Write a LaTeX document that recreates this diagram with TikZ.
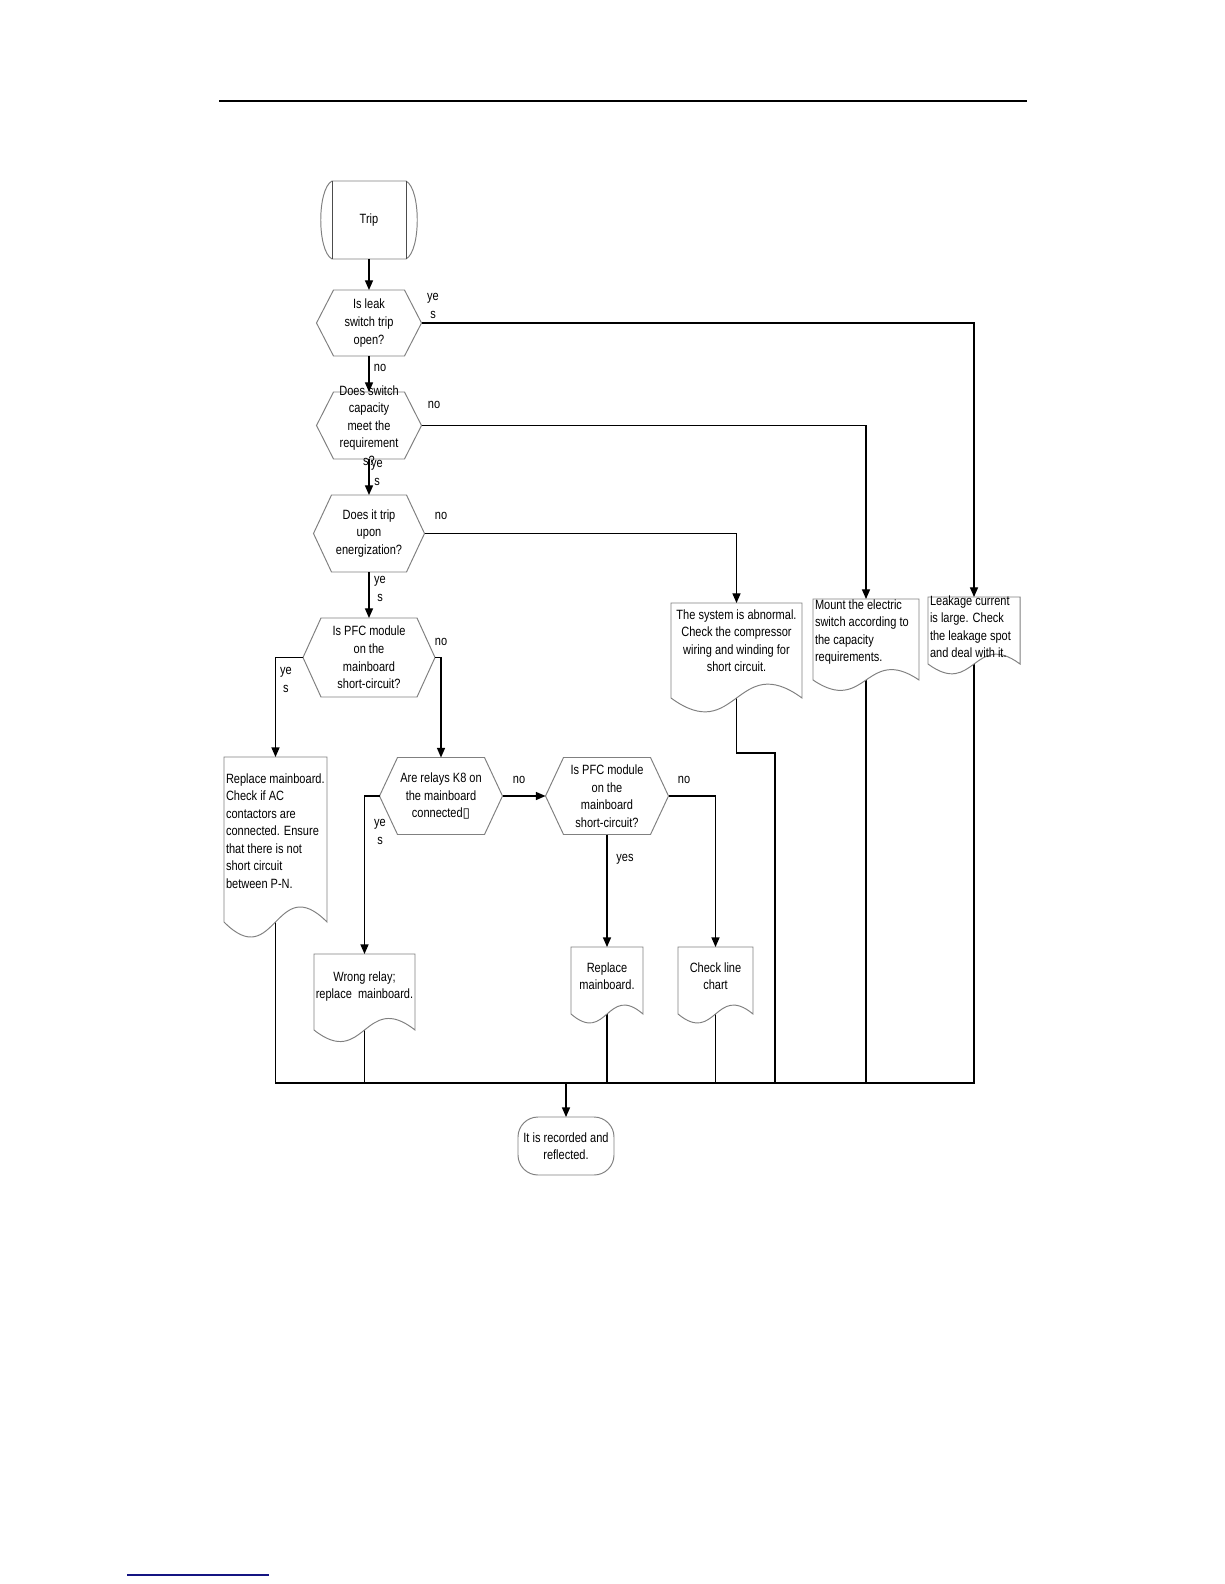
\documentclass[tikz,border=0pt]{standalone}
\usepackage{fontspec}
\setmainfont{Liberation Sans}[FakeStretch=0.82]
\newfontfamily\dejavu{DejaVu Sans}
\usetikzlibrary{arrows.meta,calc}
\newlength\pxl \setlength\pxl{0.02cm}
\newcommand\tbox[4]{\parbox[c][#2\pxl][#3]{#1\pxl}{#4}}
\newcommand\mystrut{\rule{0pt}{10\pxl}}
\newcommand\doctxtL[2]{\raggedright\leftskip2\pxl\relax\vspace*{#1\pxl}\mystrut #2}
\newcommand\doctxtC[2]{\centering\vspace*{#1\pxl}\mystrut #2}
\definecolor{shapegray}{RGB}{128,128,128}
\definecolor{footblue}{RGB}{20,20,130}
\pgfdeclarelayer{bg}\pgfdeclarelayer{mid}\pgfsetlayers{bg,mid,main}
\tikzset{
  x=0.02cm, y=-0.02cm,
  every node/.style={font=\fontsize{7.65}{10}\selectfont, inner sep=0pt, outer sep=0pt},
  box/.style={inner sep=0pt, outer sep=0pt},
  lbl/.style={align=center},
  shp/.style={draw=shapegray, line width=0.55pt, fill=white},
  conn/.style={draw=black, line width=0.75pt},
  arr/.style={conn, -{Triangle[length=5.5pt,width=4.6pt]}},
}
\begin{document}
\begin{tikzpicture}
\useasboundingbox (0,0) rectangle (1224,1584);
\begin{pgfonlayer}{bg}
\fill[white] (0,0) rectangle (1224,1584);
\end{pgfonlayer}

% page rules
\draw[line width=1.1pt] (219,101) -- (1027,101);
\draw[line width=1.1pt, draw=footblue] (127,1575) -- (269,1575);

% start
\node[box] (trip) at (369,220) {\tbox{74}{78}{c}{\centering Trip}};

% decisions
\node[box] (d1) at (369,323) {\tbox{105}{66}{c}{\centering Is leak\\switch trip\\open?}};
\node[box] (d2) at (369,425.5) {\tbox{105}{67}{c}{\centering Does switch\\capacity\\meet the\\requirement\\s?}};
\node[box] (d3) at (369,533.5) {\tbox{111}{77}{c}{\centering Does it trip\\upon\\energization?}};
\node[box] (d4) at (369,657.5) {\tbox{132}{79}{c}{\centering Is PFC module\\on the\\mainboard\\short-circuit?}};
\node[box] (d5) at (441,796) {\tbox{123}{77}{c}{\centering Are relays K8 on\\the mainboard\\connected{\dejavu ▯}}};
\node[box] (d6) at (607,796) {\tbox{123}{77}{c}{\centering Is PFC module\\on the\\mainboard\\short-circuit?}};

% documents
\node[box] (rm) at (275.5,839.5) {\tbox{103}{165}{t}{\doctxtL{16}{Replace mainboard.\\Check if AC\\contactors are\\connected. Ensure\\that there is not\\short circuit\\between P-N.}}};
\node[box] (wr) at (364.5,992) {\tbox{101}{76}{t}{\doctxtC{17}{Wrong relay;\\replace\ \ mainboard.}}};
\node[box] (r2) at (607,980.5) {\tbox{72}{67}{t}{\doctxtC{15}{Replace\\mainboard.}}};
\node[box] (cl) at (715.5,980.5) {\tbox{75}{67}{t}{\doctxtC{15}{Check line\\chart}}};
\node[box] (sa) at (736.5,650.5) {\tbox{131}{95}{t}{\doctxtC{6}{The system is abnormal.\\Check the compressor\\wiring and winding for\\short circuit.}}};
\node[box] (mt) at (866,639.5) {\tbox{106}{81}{t}{\doctxtL{0}{Mount the electric\\switch according to\\the capacity\\requirements.}}};
\node[box] (lk) at (974,630.5) {\tbox{92}{67}{t}{\doctxtL{-2}{Leakage current\\is large. Check\\the leakage spot\\and deal with it.}}};

% end
\node[box] (end) at (566,1146) {\tbox{96}{58}{c}{\centering It is recorded and\\reflected.}};

% shapes
\begin{pgfonlayer}{mid}
\draw[shp] (trip.north west) -- (trip.north east)
  .. controls ($(trip.north east)+(15,8)$) and ($(trip.south east)+(15,-8)$) .. (trip.south east)
  -- (trip.south west)
  .. controls ($(trip.south west)+(-15,-8)$) and ($(trip.north west)+(-15,8)$) .. (trip.north west) -- cycle;
\draw[draw=black!70, line width=0.55pt] (trip.north west) -- (trip.south west) (trip.north east) -- (trip.south east);
\foreach \n/\c in {d1/17,d2/17,d3/18,d4/18,d5/18,d6/18}{
  \draw[shp] (\n.west) -- ($(\n.north west)+(\c,0)$) -- ($(\n.north east)+(-\c,0)$) -- (\n.east)
    -- ($(\n.south east)+(-\c,0)$) -- ($(\n.south west)+(\c,0)$) -- cycle;
}
\foreach \n/\w/\a in {rm/103/52,wr/101/40,r2/72/31,cl/75/31,sa/131/48,mt/106/36,lk/92/34}{
  \draw[shp] (\n.north west) -- (\n.north east) -- (\n.south east)
    .. controls ($(\n.south east)+(-0.5*\w,-\a)$) and ($(\n.south west)+(0.5*\w,\a)$) .. (\n.south west) -- cycle;
}
\draw[shp, rounded corners=20\pxl] (end.north west) rectangle (end.south east);
\end{pgfonlayer}

% connectors
\draw[arr] (trip.south) -- (d1.north);
\draw[arr] (d1.east) -| (lk.north);
\draw[arr] (d1.south) -- (d2.north);
\draw[arr] (d2.east) -| (mt.north);
\draw[arr] (d2.south) -- (d3.north);
\draw[arr] (d3.east) -| (sa.north);
\draw[arr] (d3.south) -- (d4.north);
\draw[arr] (d4.west) -| (rm.north);
\draw[arr] (d4.east) -| (d5.north);
\draw[arr] (d5.west) -| (wr.north);
\draw[arr] (d5.east) -- (d6.west);
\draw[arr] (d6.east) -| (cl.north);
\draw[arr] (d6.south) -- (r2.north);

\coordinate (bl) at (275.5,1083);
\coordinate (br) at (974,1083);
\coordinate (join) at (566,1083);
\coordinate (sabend) at (775,753);
\begin{pgfonlayer}{bg}
\draw[conn] (rm.center) -- (bl) -- (br) -- (lk.center);
\draw[conn] (wr.center) -- (wr.center |- bl);
\draw[conn] (r2.center) -- (r2.center |- bl);
\draw[conn] (cl.center) -- (cl.center |- bl);
\draw[conn] (mt.center) -- (mt.center |- bl);
\draw[conn] (sa.center) |- (sabend) -- (sabend |- bl);
\end{pgfonlayer}
\draw[line width=1.6pt] (join) -- (mt.center |- bl);
\draw[arr] (join) -- (end.north);

% labels
\node[lbl] (l1) at (433,306) {ye\\s};
\node[lbl] (l2) at (380,368) {no};
\node[lbl] (l3) at (434,405) {no};
\node[lbl] (l4) at (377,473) {ye\\s};
\node[lbl] (l5) at (441,516) {no};
\node[lbl] (l6) at (380,589) {ye\\s};
\node[lbl] (l7) at (286,680) {ye\\s};
\node[lbl] (l8) at (441,642) {no};
\node[lbl] (l9) at (380,832) {ye\\s};
\node[lbl] (l10) at (519,780) {no};
\node[lbl] (l11) at (684,780) {no};
\node[lbl] (l12) at (625,859) {yes};
\end{tikzpicture}
\end{document}
